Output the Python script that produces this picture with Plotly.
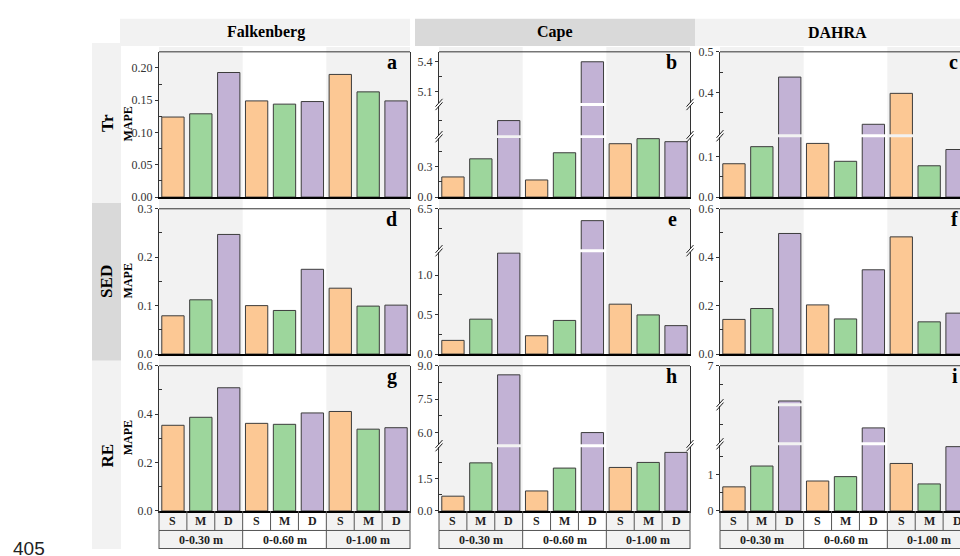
import plotly.graph_objects as go

W, H = 960, 556

# ---------------- data ----------------
sites = ["Falkenberg", "Cape", "DAHRA"]
variables = ["Tr", "SED", "RE"]
depths = ["0-0.30 m", "0-0.60 m", "0-1.00 m"]
layers = ["S", "M", "D"]
letters = ["a", "b", "c", "d", "e", "f", "g", "h", "i"]

falkenberg_tr = [0.124, 0.129, 0.193, 0.149, 0.144, 0.148, 0.190, 0.163, 0.149]
cape_tr = [0.20, 0.38, 0.76, 0.17, 0.44, 5.40, 0.53, 0.58, 0.55]
dahra_tr = [0.082, 0.124, 0.438, 0.132, 0.088, 0.322, 0.398, 0.077, 0.117]

falkenberg_sed = [0.079, 0.112, 0.247, 0.100, 0.090, 0.175, 0.136, 0.099, 0.101]
cape_sed = [0.173, 0.442, 1.28, 0.232, 0.426, 6.35, 0.632, 0.496, 0.360]
dahra_sed = [0.143, 0.188, 0.498, 0.203, 0.145, 0.348, 0.484, 0.133, 0.169]

falkenberg_re = [0.354, 0.387, 0.509, 0.362, 0.358, 0.405, 0.411, 0.338, 0.344]
cape_re = [0.68, 2.21, 8.59, 0.92, 1.97, 5.99, 2.00, 2.23, 2.69]
dahra_re = [0.66, 1.23, 6.06, 0.82, 0.94, 2.27, 1.30, 0.74, 1.76]

values = [
    [falkenberg_tr, cape_tr, dahra_tr],
    [falkenberg_sed, cape_sed, dahra_sed],
    [falkenberg_re, cape_re, dahra_re],
]

# ---------------- styling / layout ----------------
layer_colors = {"S": "#FCC894", "M": "#9DD69C", "D": "#C2B2D5"}
bar_colors = [layer_colors[l] for d in depths for l in layers]
SERIF = "Liberation Serif"
BAND = "#F2F2F2"
DARK = "#D9D9D9"

col_left = [159, 439, 720]
PW = 251
row_top = [46, 207, 368]
PH = 149
GAP = 3

# axis segments, bottom -> top: (range, pixel height, tick values, minor ticks, format)
axis_specs = [
    [
        [((0, 0.225), 149, [0, 0.05, 0.10, 0.15, 0.20], [0.025, 0.075, 0.125, 0.175], ".2f")],
        [((0, 0.6), 62, [0, 0.3], [0.15, 0.45], ".1f"),
         ((0.6, 0.92), 33, [], [0.76], ".1f"),
         ((4.97, 5.5), 54, [5.1, 5.4], [5.25], ".1f")],
        [((0, 0.151), 63, [0, 0.1], [0.05], ".1f"),
         ((0.294, 0.5), 86, [0.4, 0.5], [0.35, 0.45], ".1f")],
    ],
    [
        [((0, 0.3), 149, [0, 0.1, 0.2, 0.3], [0.05, 0.15, 0.25], ".1f")],
        [((0, 1.31), 106, [0, 0.5, 1.0], [0.25, 0.75], ".1f"),
         ((5.97, 6.5), 43, [6.5], [6.25], ".1f")],
        [((0, 0.6), 149, [0, 0.2, 0.4, 0.6], [0.1, 0.3, 0.5], ".1f")],
    ],
    [
        [((0, 0.6), 149, [0, 0.2, 0.4, 0.6], [0.1, 0.3, 0.5], ".1f")],
        [((0, 3.0), 67, [0, 1.5], [0.75, 2.25], ".1f"),
         ((5.4, 9.0), 82, [6.0, 7.5, 9.0], [6.75, 8.25], ".1f")],
        [((0, 1.84), 69, [0, 1], [0.5, 1.5], ".0f"),
         ((1.84, 2.9), 40, [], [2.37], ".0f"),
         ((5.96, 7.0), 40, [7], [6.5], ".0f")],
    ],
]


def fx(x):
    return x / W


def fy(y):
    return 1 - y / H


fig = go.Figure()
layout = {}
shapes = []
annotations = []


def rect(x0, y0, x1, y1, fill, layer="below"):
    shapes.append(dict(type="rect", xref="paper", yref="paper", x0=fx(x0), x1=fx(x1),
                       y0=fy(y1), y1=fy(y0), fillcolor=fill, line=dict(width=0), layer=layer))


def seg(x0, y0, x1, y1, color="#333333", width=1, layer="above"):
    shapes.append(dict(type="line", xref="paper", yref="paper", x0=fx(x0), x1=fx(x1),
                       y0=fy(y0), y1=fy(y1), line=dict(color=color, width=width), layer=layer))


def text(x, y, s, size, xanchor="center", yanchor="middle", angle=0, family=SERIF, color="black"):
    annotations.append(dict(x=fx(x), y=fy(y), xref="paper", yref="paper", text=s, showarrow=False,
                            xanchor=xanchor, yanchor=yanchor, textangle=angle,
                            font=dict(family=family, size=size, color=color)))


# background bands per depth group
for c in range(3):
    L = col_left[c]
    for g in (0, 2):
        rect(L + g * PW / 3, 41, L + (g + 1) * PW / 3, 556, BAND)

# column headers
rect(120, 12, 410, 40, BAND)
rect(415, 12, 695, 40, DARK)
rect(695, 12, 980, 40, BAND)
for s, cx in zip(sites, [266, 555, 837]):
    text(cx, 26, "<b>%s</b>" % s, 16)

# row headers
rect(92, 37, 121, 201, BAND)
rect(92, 201, 121, 363, DARK)
rect(92, 363, 121, 556, BAND)
for v, cy in zip(variables, [119, 282, 460]):
    text(107, cy, "<b>%s</b>" % v, 17, angle=-90)

xi = 0
yi = 0
for r in range(3):
    for c in range(3):
        L = col_left[c]
        R = L + PW
        Rv = min(R, W)
        top = row_top[r]
        bottom = top + PH
        xi += 1
        xname = "x" if xi == 1 else "x%d" % xi
        xkey = "xaxis" if xi == 1 else "xaxis%d" % xi
        specs = axis_specs[r][c]
        n = len(specs)
        ycur = bottom
        first_y = None
        for j, (rng, hpx, tv, mv, fmt) in enumerate(specs):
            yi += 1
            yname = "y" if yi == 1 else "y%d" % yi
            ykey = "yaxis" if yi == 1 else "yaxis%d" % yi
            if first_y is None:
                first_y = yname
            lo, hi = rng
            scale = (hi - lo) / hpx
            b_px = ycur
            t_px = ycur - hpx
            if j > 0:
                b_px -= GAP / 2
                lo += GAP / 2 * scale
            if j < n - 1:
                t_px += GAP / 2
                hi -= GAP / 2 * scale
                # break marks
                for ex in ([L, R] if R <= W else [L]):
                    for off in (-1.8, 1.8):
                        seg(ex - 3.5, t_px - GAP / 2 + off + 4, ex + 3.5, t_px - GAP / 2 + off - 4,
                            "#222222", 1)
            ycur = ycur - hpx
            layout[ykey] = dict(
                domain=[fy(b_px), fy(t_px)], anchor=xname, range=[lo, hi],
                tickmode="array", tickvals=tv, ticktext=[format(v, fmt) for v in tv],
                ticks="outside", ticklen=3, tickwidth=1, tickcolor="#333333",
                showline=True, linecolor="#333333", linewidth=1, mirror=(R <= W),
                showgrid=False, zeroline=False, fixedrange=True,
                tickfont=dict(family=SERIF, size=12, color="#333333"),
                minor=dict(tickmode="array", tickvals=mv, ticks="inside", ticklen=3,
                           tickwidth=1, tickcolor="#333333", showgrid=False),
            )
            fig.add_trace(go.Bar(
                x=list(range(9)), y=values[r][c], width=0.8,
                marker=dict(color=bar_colors, line=dict(color="#3c3c3c", width=1)),
                xaxis=xname, yaxis=yname, showlegend=False, hoverinfo="skip",
            ))
        layout[xkey] = dict(
            domain=[fx(L), fx(Rv)], anchor=first_y,
            range=[-0.5, -0.5 + 9 * (Rv - L) / PW],
            showticklabels=False, ticks="", showline=True, linecolor="black", linewidth=2,
            showgrid=False, zeroline=False, fixedrange=True,
        )
        # top frame line
        seg(L, top, R, top, "#333333", 1)
        # panel letter
        text(R - 11, top - 3, "<b>%s</b>" % letters[r * 3 + c], 20, xanchor="right", yanchor="top")
        # y title
        if c == 0:
            text(128, top + PH / 2, "<b>MAPE</b>", 12, angle=-90)
        # category table under the last row
        if r == 2:
            tb = bottom
            seg(L, 537, R, 537, "#555555", 1)
            seg(L, 555.5, R, 555.5, "#555555", 1)
            for i in range(10):
                seg(L + i * PW / 9, tb, L + i * PW / 9, 537, "#555555", 1)
            for g in range(4):
                seg(L + g * PW / 3, 537, L + g * PW / 3, 556, "#555555", 1)
            for i, lab in enumerate([l for d in depths for l in layers]):
                annotations.append(dict(x=i, y=fy(527.5), xref=xname, yref="paper",
                                        xanchor="center", yanchor="middle",
                                        text="<b>%s</b>" % lab, showarrow=False,
                                        font=dict(family=SERIF, size=12, color="#222222")))
            for g, d in enumerate(depths):
                annotations.append(dict(x=3 * g + 1, y=fy(546.5), xref=xname, yref="paper",
                                        xanchor="center", yanchor="middle",
                                        text="<b>%s</b>" % d, showarrow=False,
                                        font=dict(family=SERIF, size=12, color="#222222")))

text(11, 543, "405", 19, xanchor="left", yanchor="top", family="Liberation Sans", color="#222222")

fig.update_layout(
    width=W, height=H, margin=dict(l=0, r=0, t=0, b=0), autosize=False,
    paper_bgcolor="white", plot_bgcolor="rgba(0,0,0,0)",
    shapes=shapes, annotations=annotations, showlegend=False,
    **layout,
)

fig.write_html("out.html", config={"displayModeBar": False},
               post_script="document.body.style.margin='0px';")
